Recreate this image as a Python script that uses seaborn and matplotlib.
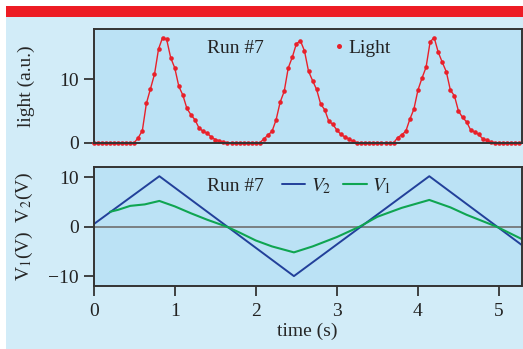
import numpy as np
import matplotlib
matplotlib.use('Agg')
import matplotlib.pyplot as plt
from matplotlib.lines import Line2D
from matplotlib.patches import Rectangle
import seaborn as sns

# light signal, sampled every 0.05 s
light_dt = 0.05
light = [0, 0, 0, 0, 0, 0, 0, 0, 0, 0, 0,
         0.8, 1.9, 6.2, 8.5, 10.8, 14.8, 16.6, 16.3, 13.4, 11.8,
         8.9, 7.5, 5.4, 4.4, 3.6, 2.3, 1.8, 1.5, 0.9, 0.5, 0.3, 0.1,
         0, 0, 0, 0, 0, 0, 0, 0, 0,
         0.6, 1.2, 1.8, 3.6, 6.4, 8.1, 11.8, 13.5, 15.6, 16.1,
         14.5, 11.3, 9.8, 8.4, 6.1, 5.2, 3.4, 2.9, 2.0, 1.3, 0.9, 0.6, 0.2,
         0, 0, 0, 0, 0, 0, 0, 0, 0, 0,
         0.8, 1.25, 1.8, 3.7, 5.3, 8.3, 10.2, 11.9, 15.9, 16.6,
         14.3, 12.7, 11.2, 8.3, 7.4, 5.0, 4.0, 3.3, 2.0, 1.7, 1.3, 0.6, 0.4, 0.1,
         0, 0, 0, 0, 0, 0, 0]
light_t = [i * light_dt for i in range(len(light))]

# voltages
v2_t = [0.0, 0.81, 2.47, 4.14, 5.28]
v2 = [0.5, 10.2, -10.0, 10.2, -3.7]

v1_t = [0.2, 0.3, 0.45, 0.63, 0.81, 1.0, 1.2, 1.4, 1.64, 1.8, 2.0, 2.2, 2.47,
        2.7, 3.0, 3.28, 3.5, 3.8, 4.14, 4.4, 4.6, 4.8, 4.97, 5.28]
v1 = [3.0, 3.4, 4.2, 4.5, 5.2, 4.1, 2.7, 1.4, 0.0, -1.2, -2.8, -4.0, -5.2,
      -4.0, -2.1, 0.0, 2.0, 3.8, 5.4, 3.9, 2.4, 1.1, 0.0, -2.5]

xticks = [0, 1, 2, 3, 4, 5]

RED = '#e8202a'
BLUE = '#22409a'
GREEN = '#0fa551'
FIG_BG = '#d2ecf8'
AX_BG = '#bbe2f5'
SPINE = '#333333'

sns.set_style('ticks')
plt.rcParams['font.family'] = ['Liberation Serif', 'DejaVu Serif']
plt.rcParams['mathtext.fontset'] = 'stix'
plt.rcParams['font.size'] = 14
plt.rcParams['axes.edgecolor'] = SPINE
plt.rcParams['axes.linewidth'] = 1.4
plt.rcParams['xtick.color'] = SPINE
plt.rcParams['ytick.color'] = SPINE
plt.rcParams['xtick.labelcolor'] = '#222222'
plt.rcParams['ytick.labelcolor'] = '#222222'
plt.rcParams['xtick.major.size'] = 7
plt.rcParams['ytick.major.size'] = 7
plt.rcParams['xtick.major.pad'] = 5.5
plt.rcParams['xtick.major.width'] = 1.3
plt.rcParams['ytick.major.width'] = 1.3

W, H = 523, 349
fig = plt.figure(figsize=(W / 100, H / 100), dpi=100, facecolor='white')
fig.patches.append(Rectangle((6 / W, 0), 1, (H - 17) / H, transform=fig.transFigure,
                             facecolor=FIG_BG, edgecolor='none', zorder=-10))
fig.patches.append(Rectangle((6 / W, (H - 17) / H), 1, 10.5 / H, transform=fig.transFigure,
                             facecolor='#ed1c24', edgecolor='none', zorder=-10))

left = 93.7 / W
width = (521.7 - 93.7) / W
ax1 = fig.add_axes([left, (H - 142.7) / H, width, (142.7 - 29.3) / H])
ax2 = fig.add_axes([left, (H - 286) / H, width, (286 - 167.3) / H])

for ax in (ax1, ax2):
    ax.set_facecolor(AX_BG)
    ax.set_xlim(0, 5.28)
    for s in ax.spines.values():
        s.set_visible(True)

# top panel
sns.lineplot(x=light_t, y=light, ax=ax1, color=RED, lw=1.0, marker='o',
             markersize=3.3, markeredgewidth=0, clip_on=False)
ax1.set_ylim(0, 17.9)
ax1.set_yticks([0, 10])
ax1.set_xticks(xticks)
ax1.tick_params(axis='x', length=0, labelbottom=False)
ax1.set_ylabel('light (a.u.)')
ax1.yaxis.set_label_coords(-0.137, 0.5)
ax1.text(0.265, 0.835, 'Run #7', transform=ax1.transAxes, va='center', ha='left',
         color='#222222')
h1 = [Line2D([], [], color=RED, marker='o', ls='none', markersize=3.6, markeredgewidth=0)]
ax1.legend(h1, ['Light'], loc='center left', bbox_to_anchor=((335 - 93.7) / 428, 0.835),
           frameon=False, handlelength=0.4, handletextpad=0.3, borderpad=0,
           borderaxespad=0, labelcolor='#222222')

# bottom panel
ax2.axhline(0, color='#6f6f6f', lw=1.2, zorder=1)
sns.lineplot(x=v2_t, y=v2, ax=ax2, color=BLUE, lw=1.4, label='$V_2$')
sns.lineplot(x=v1_t, y=v1, ax=ax2, color=GREEN, lw=1.5, label='$V_1$')
ax2.set_ylim(-12, 12)
ax2.set_yticks([-10, 0, 10])
ax2.set_yticklabels(['\u221210', '0', '10'])
ax2.set_xticks(xticks)
ax2.set_xlabel('time (s)', labelpad=2)
ax2.set_ylabel('V$_1$(V)  V$_2$(V)')
ax2.yaxis.set_label_coords(-0.137, 0.5)
ax2.text(0.265, 0.842, 'Run #7', transform=ax2.transAxes, va='center', ha='left',
         color='#222222')
ax2.legend(loc='center left', bbox_to_anchor=((282 - 93.7) / 428, 0.842), ncol=2,
           frameon=False, handlelength=1.2, handletextpad=0.3, columnspacing=0.6,
           borderpad=0, borderaxespad=0, labelcolor='#222222')

fig.savefig('out.png', dpi=100, facecolor='white')
